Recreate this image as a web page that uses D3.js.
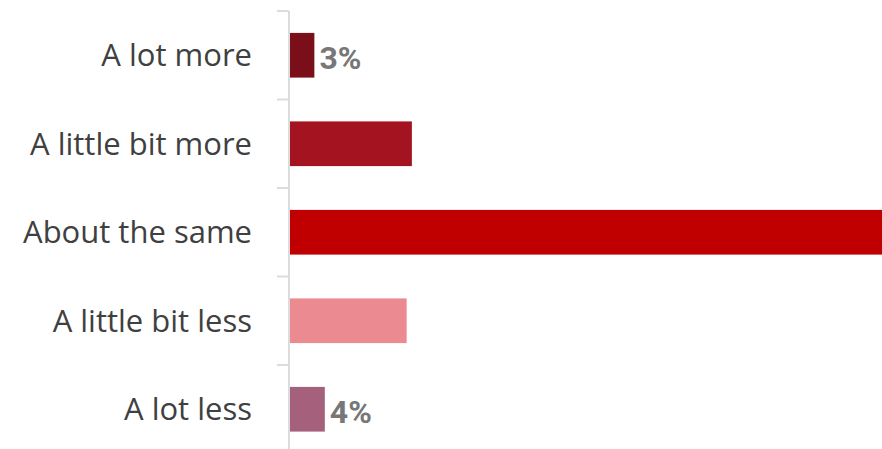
<!DOCTYPE html>
<html>
<head>
<meta charset="utf-8">
<script src="https://cdn.jsdelivr.net/npm/d3@7"></script>
<style>
  body { margin: 0; background: #fff; }
  svg { display: block; }
</style>
</head>
<body>
<div id="chart"></div>
<script>
// data
const categories = ["A lot more", "A little bit more", "About the same", "A little bit less", "A lot less"];
const values = [2.8, 14, 68, 13.4, 4];
const valueLabels = ["3%", "", "", "", "4%"];
const colors = ["#7a0f19", "#a31320", "#c00000", "#ec8a91", "#a5617b"];

const width = 882, height = 449;
const margin = {top: 11, left: 290};

const data = categories.map((c, i) => ({label: c, value: values[i], text: valueLabels[i], color: colors[i]}));

const svg = d3.select("#chart").append("svg")
    .attr("width", width)
    .attr("height", height);

// band step ~88.5px, bar ~45px
const y = d3.scaleBand()
    .domain(categories)
    .range([margin.top, margin.top + 88.5 * categories.length])
    .paddingInner(0.495)
    .paddingOuter(0.2475);

const x = d3.scaleLinear()
    .domain([0, 68])
    .range([margin.left, 882]);

// bars
svg.selectAll(".bar")
    .data(data)
    .enter().append("rect")
    .attr("class", "bar")
    .attr("x", x(0))
    .attr("y", d => y(d.label))
    .attr("width", d => x(d.value) - x(0))
    .attr("height", y.bandwidth())
    .attr("fill", d => d.color);

// axis line with ticks between categories
const axisX = margin.left - 1;
const bounds = categories.map(c => y(c) - y.step() * y.paddingInner() / 2);
svg.append("line")
    .attr("x1", axisX).attr("x2", axisX)
    .attr("y1", bounds[0]).attr("y2", height)
    .attr("stroke", "#dcdcdc").attr("stroke-width", 2);
svg.selectAll(".tick")
    .data(bounds)
    .enter().append("line")
    .attr("x1", axisX - 12).attr("x2", axisX)
    .attr("y1", d => d).attr("y2", d => d)
    .attr("stroke", "#dcdcdc").attr("stroke-width", 2);

// category labels
svg.selectAll(".cat")
    .data(data)
    .enter().append("text")
    .attr("x", 252)
    .attr("y", d => y(d.label) + y.bandwidth() / 2)
    .attr("dy", "0.35em")
    .attr("text-anchor", "end")
    .style("font-family", "'Open Sans', 'Noto Sans', sans-serif")
    .style("font-size", "31px")
    .style("fill", "#404040")
    .text(d => d.label);

// value labels
svg.selectAll(".val")
    .data(data.filter(d => d.text))
    .enter().append("text")
    .attr("x", d => x(d.value) + 5)
    .attr("y", d => y(d.label) + y.bandwidth() / 2 + 3)
    .attr("dy", "0.35em")
    .style("font-family", "Roboto, 'Noto Sans', sans-serif")
    .style("font-size", "32px")
    .style("font-weight", "bold")
    .style("fill", "#777")
    .text(d => d.text);
</script>
</body>
</html>
